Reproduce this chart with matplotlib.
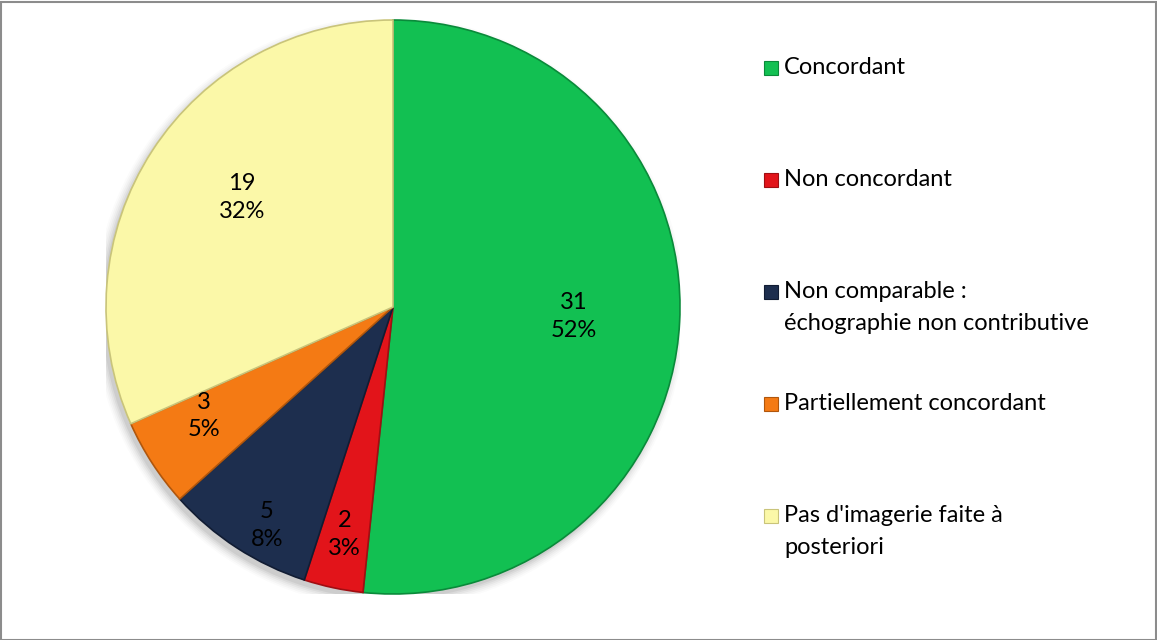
import numpy as np
import matplotlib
matplotlib.use("Agg")
import matplotlib.pyplot as plt
from matplotlib.patches import Rectangle, Circle

# Results of the comparison
categories = [
    "Concordant",
    "Non concordant",
    "Non comparable :\néchographie non contributive",
    "Partiellement concordant",
    "Pas d'imagerie faite à\nposteriori",
]
counts = [31, 2, 5, 3, 19]
percent_labels = ["52%", "3%", "8%", "5%", "32%"]

colors = ["#12C052", "#E2141A", "#1D2E4E", "#F47A14", "#FBF8A8"]
edge_colors = ["#0A8A3A", "#A00E12", "#111C33", "#B0560C", "#C9C47A"]
label_radius = [0.63, 0.81, 0.88, 0.76, 0.65]
label_angle_shift = [0, 0, 3, -3, -3]

plt.rcParams["font.family"] = ["Lato", "DejaVu Sans"]

W, H = 1157, 640
fig = plt.figure(figsize=(W / 100, H / 100), dpi=100)
fig.patch.set_facecolor("white")

# Pie axes, square, centred near (393, 307) px with radius ~287 px
R = 287
cx, cy = 393, 307
ax = fig.add_axes([(cx - R) / W, (H - cy - R) / H, 2 * R / W, 2 * R / H])

# soft shadow beneath the pie
for k, a in zip(np.linspace(1.0, 1.03, 6), np.linspace(0.05, 0.015, 6)):
    ax.add_patch(Circle((-0.012, -0.018), k, color="black", alpha=a, lw=0, zorder=0))

wedges, _ = ax.pie(
    counts,
    colors=colors,
    startangle=90,
    counterclock=False,
    radius=1.0,
    wedgeprops=dict(linewidth=1.2),
)
for w, ec in zip(wedges, edge_colors):
    w.set_edgecolor(ec)
    w.set_zorder(2)

ax.set_xlim(-1, 1)
ax.set_ylim(-1, 1)
ax.set_aspect("equal")
ax.axis("off")

# value / percent labels
for w, n, p, r, s in zip(wedges, counts, percent_labels, label_radius, label_angle_shift):
    ang = np.deg2rad((w.theta1 + w.theta2) / 2 + s)
    ax.text(r * np.cos(ang), r * np.sin(ang), f"{n}\n{p}",
            ha="center", va="center", fontsize=17, color="black",
            linespacing=1.4, zorder=5)

# legend on the right
pitch = 112
for i, (lab, c) in enumerate(zip(categories, colors)):
    y_px = 68 + i * pitch
    fig.patches.append(Rectangle((764 / W, (H - y_px - 7) / H), 14 / W, 14 / H,
                                 transform=fig.transFigure, facecolor=c,
                                 edgecolor=edge_colors[i], lw=0.8))
    lines = lab.split("\n")
    for j, ln in enumerate(lines):
        fig.text(784 / W, (H - y_px - j * 31) / H, ln, ha="left", va="center",
                 fontsize=17, color="black")

# outer frame
fig.patches.append(Rectangle((0.5 / W, 0.5 / H), (W - 2) / W, (H - 2) / H,
                             transform=fig.transFigure, fill=False,
                             edgecolor="#8C8C8C", lw=1.5))

fig.savefig("out.png", dpi=100)
